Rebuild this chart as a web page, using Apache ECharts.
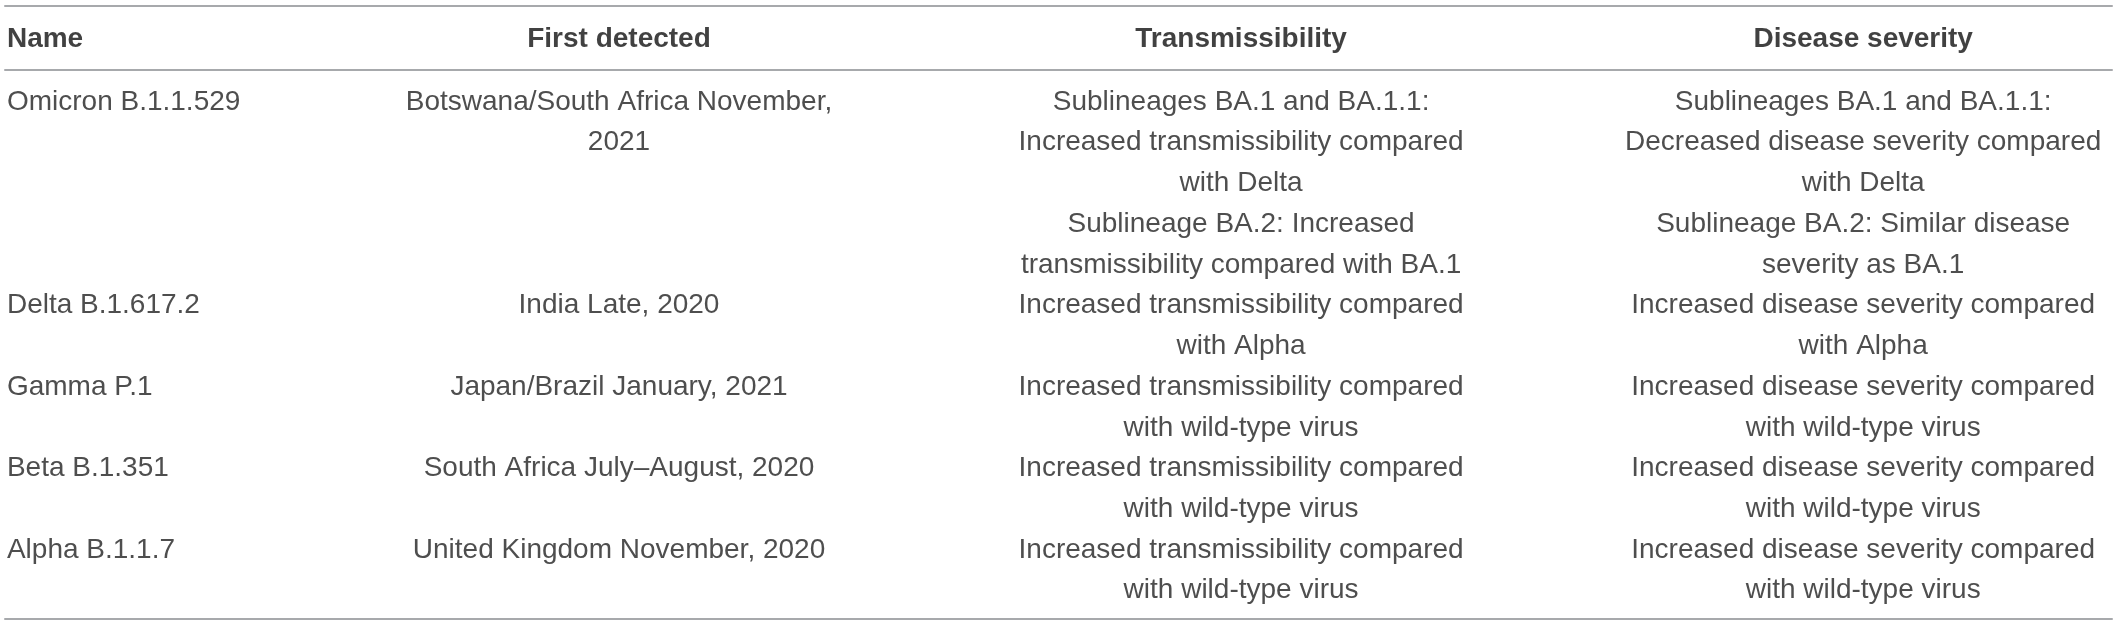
<!DOCTYPE html>
<html>
<head>
<meta charset="utf-8">
<script src="https://cdn.jsdelivr.net/npm/echarts@6/dist/echarts.min.js"></script>
<style>
  html, body { margin: 0; padding: 0; background: #fff; }
  #main { width: 2118px; height: 625px; }
</style>
</head>
<body>
<div id="main"></div>
<script>
// 表头和各列内容
var headers = ['Name', 'First detected', 'Transmissibility', 'Disease severity'];
var names = ['Omicron B.1.1.529', 'Delta B.1.617.2', 'Gamma P.1', 'Beta B.1.351', 'Alpha B.1.1.7'];
var detected = [
  'Botswana/South Africa November,\n2021',
  'India Late, 2020',
  'Japan/Brazil January, 2021',
  'South Africa July\u2013August, 2020',
  'United Kingdom November, 2020'
];
var transmissibility = [
  ['Sublineages BA.1 and BA.1.1:\nIncreased transmissibility compared\nwith Delta',
   'Sublineage BA.2: Increased\ntransmissibility compared with BA.1'],
  ['Increased transmissibility compared\nwith Alpha'],
  ['Increased transmissibility compared\nwith wild-type virus'],
  ['Increased transmissibility compared\nwith wild-type virus'],
  ['Increased transmissibility compared\nwith wild-type virus']
];
var severity = [
  ['Sublineages BA.1 and BA.1.1:\nDecreased disease severity compared\nwith Delta',
   'Sublineage BA.2: Similar disease\nseverity as BA.1'],
  ['Increased disease severity compared\nwith Alpha'],
  ['Increased disease severity compared\nwith wild-type virus'],
  ['Increased disease severity compared\nwith wild-type virus'],
  ['Increased disease severity compared\nwith wild-type virus']
];

function lines(s) { return s.split('\n').length; }

// 按行数累计每一行的起始位置
var colData = [[], [], [], []];
var line = 0;
names.forEach(function (name, i) {
  colData[0].push([0, line, name]);
  colData[1].push([1, line, detected[i]]);
  var h = Math.max(lines(name), lines(detected[i]));
  [transmissibility, severity].forEach(function (col, c) {
    var k = line;
    col[i].forEach(function (p) {
      colData[c + 2].push([c + 2, k, p]);
      k += lines(p);
    });
    h = Math.max(h, k - line);
  });
  line += h;
});

var myChart = echarts.init(document.getElementById('main'));

var ruleStyle = { show: true, onZero: false, lineStyle: { color: '#a7a9ac', width: 2 } };
function xAxis(grid, pos) {
  return {
    type: 'value', gridIndex: grid, position: pos, min: 0.013, max: 3.4,
    axisLine: ruleStyle,
    axisTick: { show: false }, axisLabel: { show: false }, splitLine: { show: false }
  };
}
var hiddenY = { axisLine: { show: false }, axisTick: { show: false }, axisLabel: { show: false }, splitLine: { show: false } };

var LH = 40.73;
var font = '"Liberation Sans", Arial, Helvetica, sans-serif';

function bodySeries(c) {
  return {
    type: 'scatter', xAxisIndex: 2, yAxisIndex: 1,
    symbolSize: 0, silent: true, clip: false,
    data: colData[c],
    label: {
      show: true, position: 'inside',
      formatter: function (p) { return p.value[2]; },
      align: c === 0 ? 'left' : 'center',
      verticalAlign: 'top',
      offset: c === 0 ? [10, 0] : [0, 0],
      fontFamily: font, fontSize: 28, lineHeight: LH, color: '#222'
    }
  };
}

var option = {
  animation: false,
  grid: [
    { left: 5, right: 6, top: 6, height: 64 },
    { left: 5, right: 6, top: 70, bottom: 6 }
  ],
  xAxis: [xAxis(0, 'top'), xAxis(0, 'bottom'), xAxis(1, 'bottom')],
  yAxis: [
    Object.assign({ type: 'value', gridIndex: 0, min: 0, max: 1 }, hiddenY),
    Object.assign({ type: 'value', gridIndex: 1, inverse: true, min: -0.285, max: 13.194 }, hiddenY)
  ],
  series: [{
    type: 'scatter', xAxisIndex: 0, yAxisIndex: 0,
    symbolSize: 0, silent: true, clip: false,
    data: headers.map(function (h, i) {
      var d = { value: [i, 0.48, h] };
      if (i === 0) d.label = { align: 'left', offset: [10, 0] };
      return d;
    }),
    label: {
      show: true, position: 'inside',
      formatter: function (p) { return p.value[2]; },
      fontFamily: font, fontSize: 28, fontWeight: 'bold', color: '#111',
      align: 'center', verticalAlign: 'middle'
    }
  }, bodySeries(0), bodySeries(1), bodySeries(2), bodySeries(3)]
};

myChart.setOption(option);
</script>
</body>
</html>
